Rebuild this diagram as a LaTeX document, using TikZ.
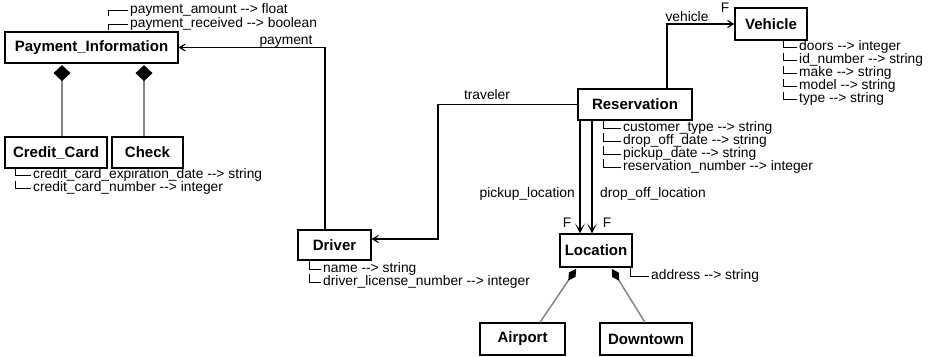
\documentclass[tikz,border=0pt]{standalone}
\usepackage{fontspec}
\setmainfont{Liberation Sans}
\usepackage{tikz}
\usetikzlibrary{arrows.meta,positioning}
\definecolor{UmlInk}{HTML}{000000}
\definecolor{UmlGray}{HTML}{858585}
\newcommand{\attrto}{-{}->}
\tikzset{
  box/.style={draw=UmlInk, line width=1.2pt, fill=white, inner sep=0pt,
              font=\fontsize{15}{17}\selectfont\bfseries},
  attr/.style={anchor=west, inner ysep=0pt, inner xsep=2pt,
               font=\fontsize{13.8}{14}\selectfont},
  role/.style={inner sep=0pt, font=\fontsize{13.8}{14}\selectfont},
  tree/.style={draw=UmlInk, line width=0.8pt},
  assoc/.style={-{Stealth[length=11pt,width=13pt,inset=8pt]}, line width=1.2pt},
  assocf/.style={-{Stealth[length=10pt,width=10pt,inset=6pt]}, line width=1.2pt},
  compo/.style={{Diamond[length=16pt,width=17pt,color=UmlInk,fill=UmlInk]}-,
                line width=2pt, draw=UmlGray, shorten <=1.5pt},
  compos/.style={{Diamond[length=14pt,width=8pt,color=UmlInk,fill=UmlInk]}-,
                 line width=1.5pt, draw=UmlGray, shorten <=1.5pt}
}

\begin{document}
\begin{tikzpicture}[x=1pt, y=-1pt]
  \useasboundingbox (0,0) rectangle (936,356);
  \node[box, minimum width=173pt, minimum height=31pt] (payinfo) at (91.5,47.5) {Payment\_Information};
  \node[box, minimum width=102pt, minimum height=31pt] (card) at (56,152.5) {Credit\_Card};
  \node[box, minimum width=71pt, minimum height=31pt] (check) at (147.5,152.5) {Check};
  \node[box, minimum width=73pt, minimum height=30pt] (driver) at (334.5,245) {Driver};
  \node[box, minimum width=114pt, minimum height=31pt] (resv) at (635,104.5) {Reservation};
  \node[box, minimum width=72pt, minimum height=32pt] (vehicle) at (771,24) {Vehicle};
  \node[box, minimum width=72pt, minimum height=33pt] (loc) at (596,250.5) {Location};
  \node[box, minimum width=85pt, minimum height=32pt] (airport) at (522.5,339) {Airport};
  \node[box, minimum width=92pt, minimum height=32pt] (downtown) at (646,339) {Downtown};

  \foreach \t [count=\i] in {payment\_amount \attrto{} float, payment\_received \attrto{} boolean} {
    \node[attr] (pa\i) at (128,-4+14*\i) {\t};
    \draw[tree] (108,2+14*\i) |- (pa\i.west);
  }
  \foreach \t [count=\i] in {credit\_card\_expiration\_date \attrto{} string, credit\_card\_number \attrto{} integer} {
    \node[attr] (ca\i) at (31,162+13*\i) {\t};
    \draw[tree] (15,155+13*\i) |- (ca\i.west);
  }
  \foreach \t [count=\i] in {name \attrto{} string, driver\_license\_number \attrto{} integer} {
    \node[attr] (da\i) at (321,256+13*\i) {\t};
    \draw[tree] (309,248+13*\i) |- (da\i.west);
  }
  \foreach \t [count=\i] in {customer\_type \attrto{} string, drop\_off\_date \attrto{} string,
                              pickup\_date \attrto{} string, reservation\_number \attrto{} integer} {
    \node[attr] (ra\i) at (621,115+13*\i) {\t};
    \draw[tree] (603,107+13*\i) |- (ra\i.west);
  }
  \foreach \t [count=\i] in {doors \attrto{} integer, id\_number \attrto{} string, make \attrto{} string,
                              model \attrto{} string, type \attrto{} string} {
    \node[attr] (va\i) at (797,34+13*\i) {\t};
    \draw[tree] (783,27+13*\i) |- (va\i.west);
  }
  \node[attr] (la1) at (649,276) {address \attrto{} string};
  \draw[tree] (630,268) |- (la1.west);

  \draw[compo] ([xshift=-29.5pt]payinfo.south) -- ([xshift=6pt]card.north);
  \draw[compo] ([xshift=52.5pt]payinfo.south) -- ([xshift=-3.5pt]check.north);
  \draw[compos] ([xshift=-19pt]loc.south) -- ([xshift=17.5pt]airport.north);
  \draw[compos] ([xshift=15pt]loc.south) -- ([xshift=-1pt]downtown.north);

  \draw[assoc] ([xshift=-9.5pt]driver.north) |- (payinfo.east);
  \node[role] (lpay) at (286,41) {payment};
  \coordinate (tvbend) at (438,239);
  \draw[assoc] (resv.west) -| (tvbend) -- (tvbend -| driver.east);
  \node[role] (ltrav) at (487,95) {traveler};
  \draw[assoc] ([xshift=32pt]resv.north) |- (vehicle.west);
  \node[role] (lveh) at (687,17) {vehicle};
  \node[role] (fveh) at (725,8) {F};
  \draw[assocf] ([xshift=-55pt]resv.south) -- ([xshift=-16pt]loc.north);
  \draw[assocf] ([xshift=-43pt]resv.south) -- ([xshift=-4pt]loc.north);
  \node[role, anchor=east] (lpick) at (575,194) {pickup\_location};
  \node[role, anchor=west] (ldrop) at (600,194) {drop\_off\_location};
  \node[role] (fpick) at (567,223) {F};
  \node[role] (fdrop) at (607,223) {F};
\end{tikzpicture}
\end{document}
